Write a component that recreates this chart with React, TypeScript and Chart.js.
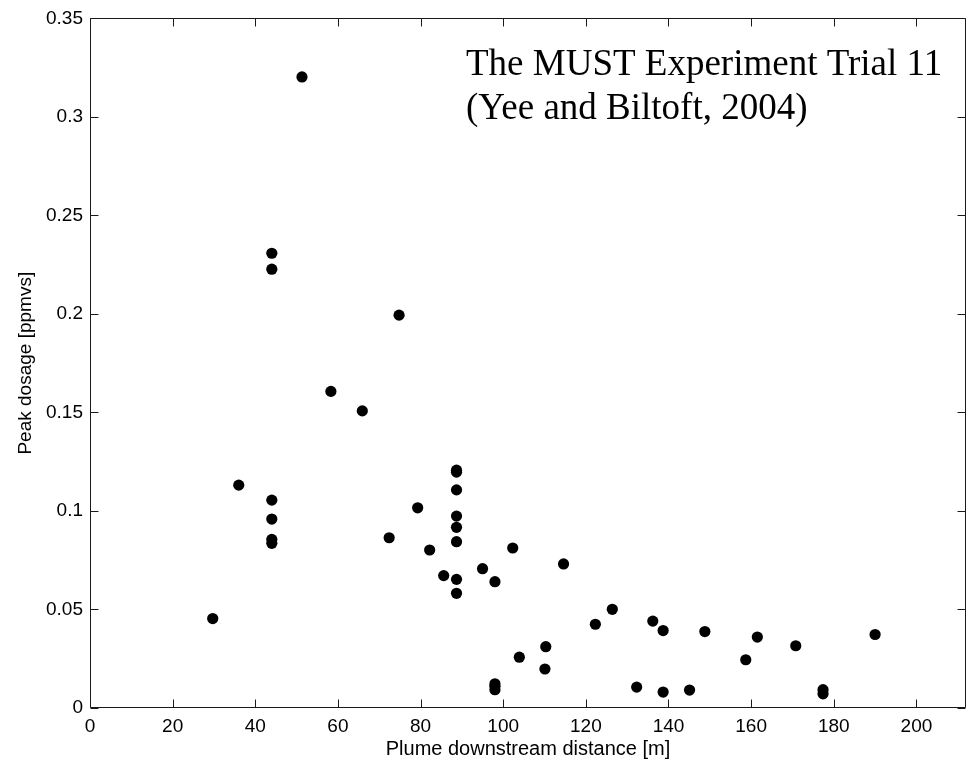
import React, { useEffect, useRef } from "react";
import { Chart, registerables, Plugin } from "chart.js";

Chart.register(...registerables);

// Plume downstream distance [m] of each sampler
const distance: number[] = [
  29.7, 36.0, 44.0, 44.0, 44.0, 44.0, 44.0, 44.0, 51.3, 58.3, 65.9, 72.4,
  74.8, 79.3, 82.2, 85.6, 88.7, 88.7, 88.7, 88.7, 88.7, 88.7, 88.7, 88.7,
  95.0, 98.0, 98.0, 98.0, 98.0, 102.3, 103.9, 110.3, 110.1, 114.6, 122.3,
  126.4, 132.3, 136.2, 138.7, 138.7, 145.1, 148.8, 158.7, 161.5, 170.8,
  177.4, 177.4, 190.0,
];

// Peak dosage [ppmvs] of each sampler
const dosage: number[] = [
  0.0454, 0.1131, 0.2308, 0.2227, 0.1055, 0.0959, 0.0856, 0.0836, 0.3203,
  0.1607, 0.1508, 0.0864, 0.1994, 0.1016, 0.0802, 0.0672, 0.1207, 0.1197,
  0.1107, 0.0974, 0.0917, 0.0844, 0.0653, 0.0582, 0.0707, 0.0641, 0.0123,
  0.011, 0.0093, 0.0812, 0.0258, 0.0311, 0.0198, 0.0731, 0.0425, 0.0501,
  0.0106, 0.0441, 0.0393, 0.0081, 0.0091, 0.0388, 0.0245, 0.036, 0.0316,
  0.0093, 0.0072, 0.0373,
];

const xTicks: number[] = [0, 20, 40, 60, 80, 100, 120, 140, 160, 180, 200];
const yTicks: number[] = [0, 0.05, 0.1, 0.15, 0.2, 0.25, 0.3, 0.35];
const yTickLabels: string[] = ["0", "0.05", "0.1", "0.15", "0.2", "0.25", "0.3", "0.35"];

const noteLines: string[] = ["The MUST Experiment Trial 11", "(Yee and Biltoft, 2004)"];

const SANS = '"Liberation Sans", Arial, Helvetica, sans-serif';
const SERIF = '"Liberation Serif", "Times New Roman", Times, serif';

// Box around the axes with short tick marks pointing inward on all four sides
const framePlugin: Plugin = {
  id: "frame",
  afterDatasetsDraw(chart) {
    const { ctx, chartArea: a } = chart;
    const xs = chart.scales.x;
    const ys = chart.scales.y;
    const len = 8;
    ctx.save();
    ctx.strokeStyle = "#1a1a1a";
    ctx.lineWidth = 1;
    ctx.beginPath();
    const L = Math.round(a.left) + 0.5;
    const R = Math.round(a.right) - 0.5;
    const T = Math.round(a.top) + 0.5;
    const B = Math.round(a.bottom) - 0.5;
    ctx.rect(L, T, R - L, B - T);
    xTicks.forEach((v) => {
      const px = Math.round(xs.getPixelForValue(v)) + 0.5;
      ctx.moveTo(px, B);
      ctx.lineTo(px, B - len);
      ctx.moveTo(px, T);
      ctx.lineTo(px, T + len);
    });
    yTicks.forEach((v) => {
      const py = Math.round(ys.getPixelForValue(v)) + 0.5;
      ctx.moveTo(L, py);
      ctx.lineTo(L + len, py);
      ctx.moveTo(R, py);
      ctx.lineTo(R - len, py);
    });
    ctx.stroke();
    ctx.restore();
  },
};

// Two-line caption in the upper right of the axes
const notePlugin: Plugin = {
  id: "note",
  afterDraw(chart) {
    const { ctx, chartArea: a } = chart;
    ctx.save();
    ctx.fillStyle = "#000";
    ctx.font = `37px ${SERIF}`;
    ctx.textAlign = "left";
    ctx.textBaseline = "alphabetic";
    noteLines.forEach((line, i) => {
      ctx.fillText(line, a.left + 376, a.top + 57 + i * 44);
    });
    ctx.restore();
  },
};

export default function App() {
  const canvasRef = useRef<HTMLCanvasElement | null>(null);

  useEffect(() => {
    const canvas = canvasRef.current;
    if (!canvas) return;
    const points = distance.map((x, i) => ({ x, y: dosage[i] }));
    const chart = new Chart(canvas, {
      type: "scatter",
      data: {
        datasets: [
          {
            data: points,
            backgroundColor: "#000",
            borderColor: "#000",
            pointRadius: 5.6,
            pointHoverRadius: 5.6,
            borderWidth: 0,
          },
        ],
      },
      options: {
        animation: false,
        responsive: true,
        maintainAspectRatio: false,
        layout: { padding: { top: 17, right: 7, left: 0, bottom: 0 } },
        plugins: {
          legend: { display: false },
          tooltip: { enabled: false },
        },
        scales: {
          x: {
            type: "linear",
            min: 0,
            max: 212,
            grid: { display: false, drawTicks: false },
            border: { display: false },
            afterBuildTicks: (s) => {
              s.ticks = xTicks.map((v) => ({ value: v }));
            },
            afterFit: (s) => {
              s.height = 53;
            },
            ticks: {
              color: "#000",
              font: { family: SANS, size: 19 },
              padding: 7,
              maxRotation: 0,
              autoSkip: false,
              callback: (v) => String(v),
            },
            title: {
              display: true,
              text: "Plume downstream distance [m]",
              color: "#000",
              font: { family: SANS, size: 20 },
              padding: { top: 0, bottom: 0 },
            },
          },
          y: {
            type: "linear",
            min: 0,
            max: 0.35,
            grid: { display: false, drawTicks: false },
            border: { display: false },
            afterBuildTicks: (s) => {
              s.ticks = yTicks.map((v) => ({ value: v }));
            },
            afterFit: (s) => {
              s.width = 90;
            },
            ticks: {
              color: "#000",
              font: { family: SANS, size: 19 },
              padding: 7,
              autoSkip: false,
              callback: (_v, i) => yTickLabels[i],
            },
            title: {
              display: true,
              text: "Peak dosage [ppmvs]",
              color: "#000",
              font: { family: SANS, size: 19 },
              padding: { top: 14, bottom: 0 },
            },
          },
        },
      },
      plugins: [framePlugin, notePlugin],
    });
    return () => chart.destroy();
  }, []);

  return (
    <div
      style={{
        position: "absolute",
        left: 0,
        top: 0,
        width: 973,
        height: 761,
        background: "#fff",
      }}
    >
      <canvas ref={canvasRef} />
    </div>
  );
}
